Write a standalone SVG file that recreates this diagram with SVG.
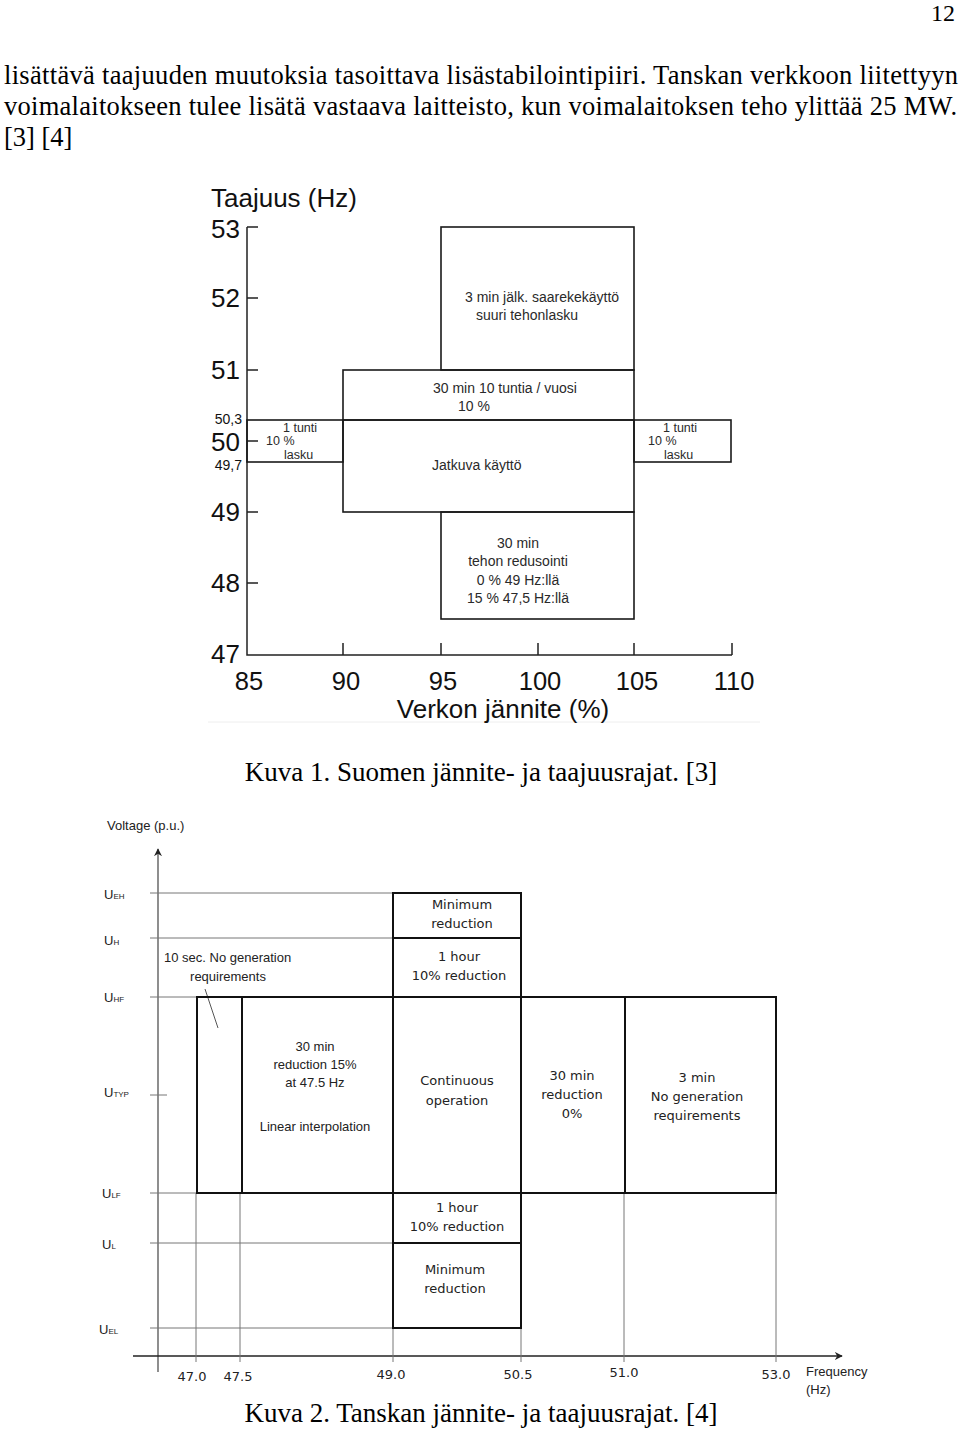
<svg xmlns="http://www.w3.org/2000/svg" width="960" height="1431" viewBox="0 0 960 1431">
<style>
.serif{font-family:"Liberation Serif","Times New Roman",serif;font-size:26.5px;fill:#000}
.cap{font-family:"Liberation Serif","Times New Roman",serif;font-size:27px;fill:#000}
.ax{font-family:"Liberation Sans",Arial,sans-serif;fill:#111}
.big{font-size:26px}
.lbl{font-family:"Liberation Sans",Arial,sans-serif;font-size:14px;fill:#2a2a2a}
.sm{font-family:"Liberation Sans",Arial,sans-serif;font-size:12.5px;fill:#2a2a2a}
.vd{font-family:"DejaVu Sans",Verdana,sans-serif;font-size:13px;fill:#222}
.ar{font-family:"Liberation Sans",Arial,sans-serif;font-size:13px;fill:#222}
.sub{font-size:8px}
.box{fill:none;stroke:#1a1a1a;stroke-width:1.6}
.tbox{fill:none;stroke:#111;stroke-width:2}
.grid{fill:none;stroke:#777;stroke-width:1}
.axis{fill:none;stroke:#222;stroke-width:1.5}
</style>
<defs>
<marker id="arr" viewBox="0 0 10 10" refX="9" refY="5" markerWidth="8" markerHeight="8" orient="auto" markerUnits="userSpaceOnUse">
<path d="M0,0 L10,5 L0,10 L3,5 Z" fill="#222"/>
</marker>
</defs>
<rect width="960" height="1431" fill="#fff"/>

<!-- page text -->
<text x="955" y="21" text-anchor="end" font-family="Liberation Serif, Times New Roman, serif" font-size="24">12</text>
<text class="serif" x="4" y="84" textLength="954" lengthAdjust="spacing">lisättävä taajuuden muutoksia tasoittava lisästabilointipiiri. Tanskan verkkoon liitettyyn</text>
<text class="serif" x="4" y="115" textLength="953" lengthAdjust="spacing">voimalaitokseen tulee lisätä vastaava laitteisto, kun voimalaitoksen teho ylittää 25 MW.</text>
<text class="serif" x="4" y="146">[3] [4]</text>

<!-- ===== Kuva 1 ===== -->
<g id="chart1-axes">
<path class="axis" d="M247,227 V655 H732"/>
<path class="axis" d="M247,227 H258 M247,298 H258 M247,370 H258 M247,441 H258 M247,512 H258 M247,583 H258"/>
<path class="axis" d="M343,643 V655 M441,643 V655 M538,643 V655 M634,643 V655 M732,643 V655"/>
<line x1="208" y1="722" x2="760" y2="722" stroke="#eee" stroke-width="1"/>
<text class="ax" x="211" y="207" font-size="26">Taajuus (Hz)</text>
<g class="ax big" text-anchor="end">
<text x="240" y="238">53</text>
<text x="240" y="307">52</text>
<text x="240" y="379">51</text>
<text x="240" y="451">50</text>
<text x="240" y="521">49</text>
<text x="240" y="592">48</text>
<text x="240" y="663">47</text>
</g>
<text class="ax" x="242" y="424" font-size="14" text-anchor="end">50,3</text>
<text class="ax" x="242" y="470" font-size="14" text-anchor="end">49,7</text>
<g class="ax" font-size="25.5" text-anchor="middle">
<text x="249" y="690">85</text>
<text x="346" y="690">90</text>
<text x="443" y="690">95</text>
<text x="540" y="690">100</text>
<text x="637" y="690">105</text>
<text x="734" y="690">110</text>
</g>
<text class="ax" x="503" y="718" font-size="26" text-anchor="middle">Verkon jännite (%)</text>
</g>

<g id="k1-island">
<rect class="box" x="441" y="227" width="193" height="143"/>
<text class="lbl" x="465" y="302">3 min jälk. saarekekäyttö</text>
<text class="lbl" x="476" y="320">suuri tehonlasku</text>
</g>
<g id="k1-30min">
<rect class="box" x="343" y="370" width="291" height="50"/>
<text class="lbl" x="433" y="393">30 min 10 tuntia / vuosi</text>
<text class="lbl" x="458" y="411">10 %</text>
</g>
<g id="k1-continuous">
<rect class="box" x="343" y="420" width="291" height="92"/>
<text class="lbl" x="432" y="470">Jatkuva käyttö</text>
</g>
<g id="k1-left">
<rect class="box" x="247" y="420" width="96" height="42"/>
<text class="sm" x="283" y="432">1 tunti</text>
<text class="sm" x="266" y="445">10 %</text>
<text class="sm" x="284" y="459">lasku</text>
</g>
<g id="k1-right">
<rect class="box" x="634" y="420" width="97" height="42"/>
<text class="sm" x="663" y="432">1 tunti</text>
<text class="sm" x="648" y="445">10 %</text>
<text class="sm" x="664" y="459">lasku</text>
</g>
<g id="k1-low">
<rect class="box" x="441" y="512" width="193" height="107"/>
<g text-anchor="middle">
<text class="lbl" x="518" y="548">30 min</text>
<text class="lbl" x="518" y="566">tehon redusointi</text>
<text class="lbl" x="518" y="585">0 % 49 Hz:llä</text>
<text class="lbl" x="518" y="603">15 % 47,5 Hz:llä</text>
</g>
</g>

<text class="cap" x="481" y="781" text-anchor="middle">Kuva 1. Suomen jännite- ja taajuusrajat. [3]</text>

<!-- ===== Kuva 2 ===== -->
<g id="chart2-axes">
<text class="ar" x="107" y="830">Voltage (p.u.)</text>
<line x1="158" y1="1372" x2="158" y2="849" stroke="#444" stroke-width="1.2" marker-end="url(#arr)"/>
<line x1="133" y1="1356" x2="842" y2="1356" stroke="#222" stroke-width="1.5" marker-end="url(#arr)"/>
<path class="grid" d="M150,893 H393 M150,938 H393 M150,997 H197 M150,1095 H167 M150,1193 H197 M150,1243 H393 M150,1328 H393"/>
<path class="grid" d="M196,1193 V1362 M240,1193 V1362 M393,1328 V1362 M521,1328 V1362 M624,1193 V1362 M776,1193 V1362"/>
<g class="ar">
<text x="104" y="899">U<tspan class="sub">EH</tspan></text>
<text x="104" y="945">U<tspan class="sub">H</tspan></text>
<text x="104" y="1002">U<tspan class="sub">HF</tspan></text>
<text x="104" y="1097">U<tspan class="sub">TYP</tspan></text>
<text x="102" y="1198">U<tspan class="sub">LF</tspan></text>
<text x="102" y="1249">U<tspan class="sub">L</tspan></text>
<text x="99" y="1334">U<tspan class="sub">EL</tspan></text>
</g>
<g class="vd" text-anchor="middle">
<text x="192" y="1381">47.0</text>
<text x="238" y="1381">47.5</text>
<text x="391" y="1379">49.0</text>
<text x="518" y="1379">50.5</text>
<text x="624" y="1377">51.0</text>
<text x="776" y="1379">53.0</text>
</g>
<text class="ar" x="806" y="1376">Frequency</text>
<text class="ar" x="806" y="1394">(Hz)</text>
</g>

<g id="connectors">
<line x1="205" y1="989" x2="218" y2="1028" stroke="#555" stroke-width="1"/>
</g>

<g id="k2-min-top">
<rect class="tbox" x="393" y="893" width="128" height="45"/>
<text class="vd" x="462" y="909" text-anchor="middle">Minimum</text>
<text class="vd" x="462" y="928" text-anchor="middle">reduction</text>
</g>
<g id="k2-1h-top">
<rect class="tbox" x="393" y="938" width="128" height="59"/>
<text class="vd" x="459" y="961" text-anchor="middle">1 hour</text>
<text class="vd" x="459" y="980" text-anchor="middle">10% reduction</text>
</g>
<g id="k2-10sec">
<rect class="tbox" x="197" y="997" width="45" height="196" stroke-width="2.4"/>
<text class="ar" x="164" y="962">10 sec. No generation</text>
<text class="ar" x="228" y="981" text-anchor="middle">requirements</text>
</g>
<g id="k2-30min-low">
<rect class="tbox" x="242" y="997" width="151" height="196" stroke-width="2.4"/>
<g class="ar" text-anchor="middle">
<text x="315" y="1051">30 min</text>
<text x="315" y="1069">reduction 15%</text>
<text x="315" y="1087">at 47.5 Hz</text>
<text x="315" y="1131">Linear interpolation</text>
</g>
</g>
<g id="k2-continuous">
<rect class="tbox" x="393" y="997" width="128" height="196"/>
<text class="vd" x="457" y="1085" text-anchor="middle">Continuous</text>
<text class="vd" x="457" y="1105" text-anchor="middle">operation</text>
</g>
<g id="k2-30min-high">
<rect class="tbox" x="521" y="997" width="104" height="196"/>
<text class="vd" x="572" y="1080" text-anchor="middle">30 min</text>
<text class="vd" x="572" y="1099" text-anchor="middle">reduction</text>
<text class="vd" x="572" y="1118" text-anchor="middle">0%</text>
</g>
<g id="k2-3min">
<rect class="tbox" x="625" y="997" width="151" height="196"/>
<text class="vd" x="697" y="1082" text-anchor="middle">3 min</text>
<text class="vd" x="697" y="1101" text-anchor="middle">No generation</text>
<text class="vd" x="697" y="1120" text-anchor="middle">requirements</text>
</g>
<g id="k2-1h-low">
<rect class="tbox" x="393" y="1193" width="128" height="50"/>
<text class="vd" x="457" y="1212" text-anchor="middle">1 hour</text>
<text class="vd" x="457" y="1231" text-anchor="middle">10% reduction</text>
</g>
<g id="k2-min-low">
<rect class="tbox" x="393" y="1243" width="128" height="85"/>
<text class="vd" x="455" y="1274" text-anchor="middle">Minimum</text>
<text class="vd" x="455" y="1293" text-anchor="middle">reduction</text>
</g>

<text class="cap" x="481" y="1422" text-anchor="middle">Kuva 2. Tanskan jännite- ja taajuusrajat. [4]</text>
</svg>
